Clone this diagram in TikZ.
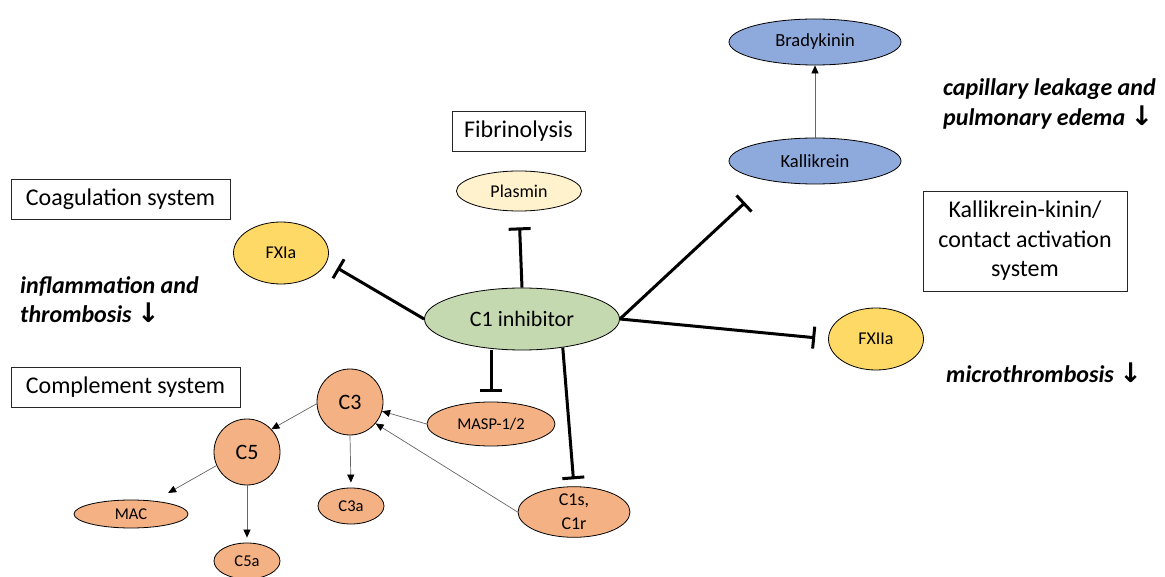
\documentclass[tikz,border=0pt]{standalone}
\usepackage{fontspec}
\setmainfont{Carlito}
\newfontfamily\arrowfont{DejaVu Sans}
\usetikzlibrary{arrows.meta,shapes.geometric}
\definecolor{kblue}{HTML}{8EA9DB}
\definecolor{plas}{HTML}{FFF2CC}
\definecolor{fyel}{HTML}{FFD966}
\definecolor{cgreen}{HTML}{C5D9B0}
\definecolor{corange}{HTML}{F4B183}
\newcommand\dnarr{{\arrowfont\bfseries\fontsize{27}{29.5}\selectfont ↓}}
\begin{document}
\begin{tikzpicture}[x=1pt,y=-1pt,
  ell/.style={ellipse,draw=black,line width=0.8pt,inner sep=0pt,align=center},
  circ/.style={circle,draw=black,line width=0.8pt,inner sep=0pt,minimum size=66pt,fill=corange,font=\fontsize{22}{26}\selectfont},
  sysbox/.style={draw=black!85,line width=0.8pt,font=\fontsize{24}{29.5}\selectfont,align=center,inner sep=0pt},
  effect/.style={font=\fontsize{24}{29.5}\selectfont\bfseries\itshape,align=left,anchor=west,inner sep=0pt},
  inh/.style={line width=3pt,-{Bar[width=22pt]}},
  act/.style={line width=0.7pt,draw=black!60,-{Triangle[length=8pt,width=7pt,color=black]}}
]
\useasboundingbox[fill=white] (0,0) rectangle (1165,577);

% boxes
\node[sysbox,minimum width=219pt,minimum height=40pt] (coag) at (120.5,199) {Coagulation system};
\node[sysbox,minimum width=133pt,minimum height=40pt] (fibr) at (518.5,131) {Fibrinolysis};
\node[sysbox,minimum width=229pt,minimum height=40pt] (compl) at (125.5,387) {Complement system};
\node[sysbox,minimum width=204pt,minimum height=100pt] (kkbox) at (1025,241) {Kallikrein-kinin/\\contact activation\\system};

% effects
\node[effect] (eff1) at (20,299.5) {inflammation and\\thrombosis \dnarr};
\node[effect] (eff2) at (943,104) {capillary leakage and\\pulmonary edema \dnarr};
\node[effect] (eff3) at (946,373) {microthrombosis \dnarr};

% ellipses
\node[ell,fill=kblue,minimum width=172pt,minimum height=46pt,font=\fontsize{18.5}{22}\selectfont] (brady) at (815,42) {Bradykinin};
\node[ell,fill=kblue,minimum width=172pt,minimum height=46pt,font=\fontsize{18.5}{22}\selectfont] (kal) at (815,161) {Kallikrein};
\node[ell,fill=plas,minimum width=125pt,minimum height=40pt,font=\fontsize{18}{22}\selectfont] (plasmin) at (519,191) {Plasmin};
\node[ell,fill=fyel,minimum width=95pt,minimum height=62pt,font=\fontsize{18}{22}\selectfont] (fxia) at (281,253) {FXIa};
\node[ell,fill=cgreen,minimum width=195pt,minimum height=62pt,font=\fontsize{22}{26}\selectfont] (c1) at (522,319) {C1 inhibitor};
\node[ell,fill=fyel,minimum width=95pt,minimum height=62pt,font=\fontsize{18}{22}\selectfont] (fxiia) at (876,339) {FXIIa};
\node[circ] (c3) at (350,402) {C3};
\node[circ] (c5) at (247,452) {C5};
\node[ell,fill=corange,minimum width=114pt,minimum height=28pt,font=\fontsize{16.5}{19}\selectfont] (mac) at (131,514) {MAC};
\node[ell,fill=corange,minimum width=66pt,minimum height=36pt,font=\fontsize{16.5}{19}\selectfont] (c5a) at (247,561) {C5a};
\node[ell,fill=corange,minimum width=66pt,minimum height=36pt,font=\fontsize{16.5}{19}\selectfont] (c3a) at (351,506) {C3a};
\node[ell,fill=corange,minimum width=128pt,minimum height=44pt,font=\fontsize{16.5}{19}\selectfont] (masp) at (491,424) {MASP-1/2};
\node[ell,fill=corange,minimum width=112pt,minimum height=44pt,font=\fontsize{18}{24}\selectfont] (c1s) at (574,512) {C1s,\\C1r};

% inhibitions
\draw[inh,shorten >=12pt] (c1.west) -- (fxia.-11);
\draw[inh,shorten >=16pt] (c1.north) -- (plasmin.south);
\draw[inh,shorten >=32pt] (c1.east) -- (kal.203);
\draw[inh,shorten >=13pt] (c1.east) -- (fxiia.west);
\draw[inh,shorten >=10pt] (c1.south -| masp.north) -- (masp.north);
\draw[inh,shorten >=7pt] (c1.-35) -- (c1s.north);

% activations
\draw[act] (kal.north) -- (brady.south);
\draw[act] (c3.183) -- (c5.43);
\draw[act,shorten >=16pt] (c5.204) -- (mac);
\draw[act,shorten >=5pt] (c5.south) -- (c5a.north);
\draw[act,shorten >=5pt] (c3.south) -- (c3a.north);
\draw[act] (masp.west) -- (c3);
\draw[act] (c1s.west) -- (c3.-40);
\end{tikzpicture}
\end{document}
